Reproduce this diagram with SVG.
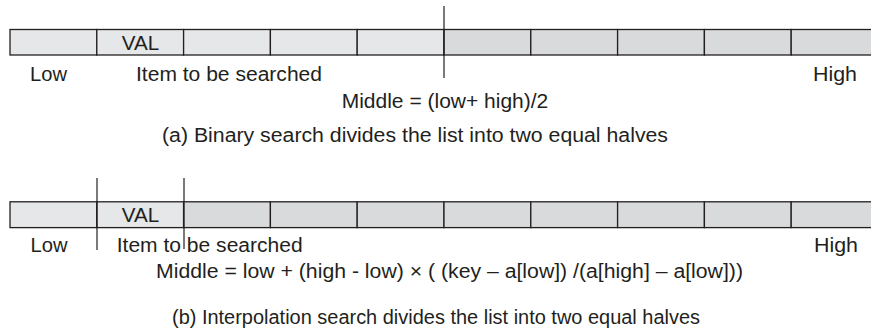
<svg xmlns="http://www.w3.org/2000/svg" width="871" height="332" viewBox="0 0 871 332">
<style>
.l{fill:#e6e7e8;stroke:#231f20;stroke-width:1.3}
.d{fill:#d9dadb;stroke:#231f20;stroke-width:1.3}
.t{font-family:"Liberation Sans",Arial,sans-serif;font-size:19.5px;fill:#231f20}
.div{stroke:#231f20;stroke-width:1.2;fill:none}
</style>
<rect width="871" height="332" fill="#ffffff"/>
<g id="arrayA">
<rect class="l" x="10" y="29.5" width="86.8" height="25.5"/>
<rect class="l" x="96.8" y="29.5" width="86.8" height="25.5"/>
<rect class="l" x="183.6" y="29.5" width="86.8" height="25.5"/>
<rect class="l" x="270.4" y="29.5" width="86.8" height="25.5"/>
<rect class="l" x="357.2" y="29.5" width="86.8" height="25.5"/>
<rect class="d" x="444" y="29.5" width="86.8" height="25.5"/>
<rect class="d" x="530.8" y="29.5" width="86.8" height="25.5"/>
<rect class="d" x="617.6" y="29.5" width="86.8" height="25.5"/>
<rect class="d" x="704.4" y="29.5" width="86.8" height="25.5"/>
<rect class="d" x="791.2" y="29.5" width="86.8" height="25.5"/>
<text class="t" x="121.7" y="50" textLength="37.5" lengthAdjust="spacingAndGlyphs">VAL</text>
</g>
<g id="labelsA">
<text class="t" x="30" y="80.7" textLength="37" lengthAdjust="spacingAndGlyphs">Low</text>
<text class="t" x="136" y="80.7" textLength="186" lengthAdjust="spacingAndGlyphs">Item to be searched</text>
<text class="t" x="813" y="80.7" textLength="44" lengthAdjust="spacingAndGlyphs">High</text>
<text class="t" x="341.7" y="108.3" textLength="206.6" lengthAdjust="spacingAndGlyphs">Middle = (low+ high)/2</text>
<text class="t" x="162" y="142" textLength="506" lengthAdjust="spacingAndGlyphs">(a) Binary search divides the list into two equal halves</text>
</g>
<g id="arrayB">
<rect class="l" x="10" y="201.8" width="86.8" height="25.8"/>
<rect class="l" x="96.8" y="201.8" width="86.8" height="25.8"/>
<rect class="d" x="183.6" y="201.8" width="86.8" height="25.8"/>
<rect class="d" x="270.4" y="201.8" width="86.8" height="25.8"/>
<rect class="d" x="357.2" y="201.8" width="86.8" height="25.8"/>
<rect class="d" x="444" y="201.8" width="86.8" height="25.8"/>
<rect class="d" x="530.8" y="201.8" width="86.8" height="25.8"/>
<rect class="d" x="617.6" y="201.8" width="86.8" height="25.8"/>
<rect class="d" x="704.4" y="201.8" width="86.8" height="25.8"/>
<rect class="d" x="791.2" y="201.8" width="86.8" height="25.8"/>
<text class="t" x="121.7" y="222" textLength="37.5" lengthAdjust="spacingAndGlyphs">VAL</text>
</g>
<g id="labelsB">
<text class="t" x="30.5" y="251.7" textLength="37" lengthAdjust="spacingAndGlyphs">Low</text>
<text class="t" x="116.7" y="251.7" textLength="186" lengthAdjust="spacingAndGlyphs">Item to be searched</text>
<text class="t" x="814" y="251.7" textLength="44" lengthAdjust="spacingAndGlyphs">High</text>
<text class="t" x="156" y="278" textLength="587" lengthAdjust="spacingAndGlyphs">Middle = low + (high - low) × ( (key – a[low]) /(a[high] – a[low]))</text>
<text class="t" x="172" y="324" textLength="528" lengthAdjust="spacingAndGlyphs">(b) Interpolation search divides the list into two equal halves</text>
</g>
<g id="connectors">
<line class="div" x1="444" y1="6" x2="444" y2="78"/>
<line class="div" x1="97" y1="178" x2="97" y2="250"/>
<line class="div" x1="184" y1="178" x2="184" y2="249"/>
</g>
</svg>
